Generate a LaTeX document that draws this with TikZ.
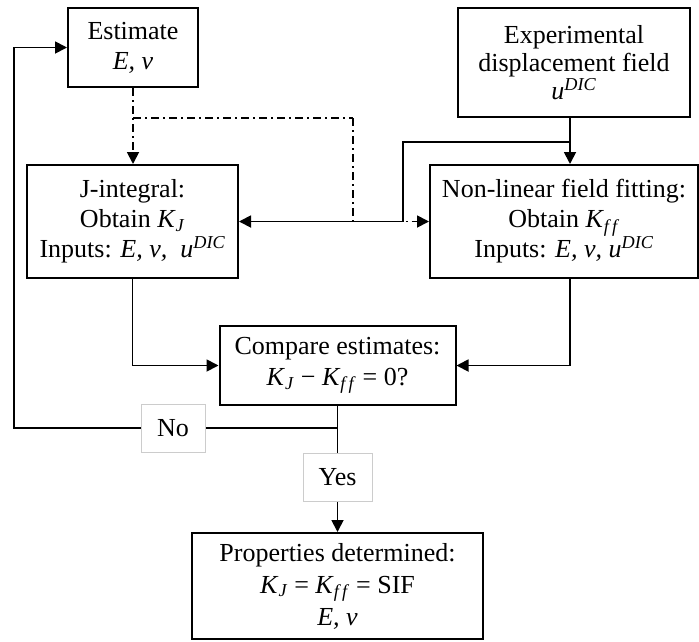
\documentclass[tikz,border=0pt]{standalone}
\usepackage{fontspec}
\setmainfont{Liberation Serif}
\usetikzlibrary{arrows.meta}
\newcommand\subit[1]{\textsubscript{\textit{#1}}}
\newcommand\supit[1]{\textsuperscript{\textit{#1}}}
\begin{document}
\begin{tikzpicture}[x=1pt,y=-1pt,
  box/.style={draw, line width=2pt, align=center, inner sep=0pt, font=\fontsize{26}{30}\selectfont},
  lbl/.style={draw=black!20, line width=0.8pt, fill=white, inner sep=0pt, font=\fontsize{26}{30}\selectfont},
  ln/.style={line width=1.8pt},
  arr/.style={line width=1.8pt, -{Triangle[length=12pt,width=12pt]}},
  dd/.style={line width=1.8pt, dash pattern=on 8pt off 4pt on 2pt off 4pt}]
\useasboundingbox (0,0) rectangle (699,641);
\node[box, minimum width=130, minimum height=79] (est) at (133,47.5) {Estimate\\\textit{E, ν}};
\node[box, minimum width=232, minimum height=109, font=\fontsize{26}{28}\selectfont] (exp) at (574,62.5) {Experimental\\displacement field\\\textit{u}\supit{DIC}};
\node[box, minimum width=211, minimum height=113] (jint) at (132.5,221.5) {J-integral:\\Obtain \textit{K}\subit{J}\\Inputs: \textit{E, ν,\ \ u}\supit{DIC}};
\node[box, minimum width=268, minimum height=113] (nl) at (564,221.5) {Non-linear field fitting:\\Obtain \textit{K}\subit{f\,f}\\Inputs: \textit{E, ν, u}\supit{DIC}};
\node[box, minimum width=236, minimum height=79, font=\fontsize{26}{31}\selectfont] (cmp) at (337.5,365.5) {Compare estimates:\\\textit{K}\subit{J} − \textit{K}\subit{f\,f} = 0?};
\node[box, minimum width=291, minimum height=106, font=\fontsize{26}{32}\selectfont] (prop) at (337.5,586) {Properties determined:\\\textit{K}\subit{J} = \textit{K}\subit{f\,f} = SIF\\\textit{E, ν}};
\coordinate (j) at (337.5,428);
\coordinate (tap) at (570,142);
\coordinate (dd1) at (353,118);
% dash-dot connectors
\draw[dd,arr] (est.south) -- (est.south |- jint.north);
\draw[dd] (est.south |- dd1) -- (dd1);
\draw[dd,arr] (dd1) |- (nl.west);
% solid connectors
\draw[arr] (exp.south -| tap) -- (nl.north -| tap);
\draw[arr] (tap) -- (403,142) |- (jint.east);
\draw[arr] (jint.south) |- (cmp.west);
\draw[arr] (nl.south -| tap) |- (cmp.east);
\draw[ln] (cmp.south) -- (j);
\draw[arr] (j) -- (14,428) |- (est.west);
\draw[arr] (j) -- (prop.north);
% labels
\node[lbl, minimum width=64, minimum height=48] (no) at (173,428) {No};
\node[lbl, minimum width=69, minimum height=48] (yes) at (337.5,477) {Yes};
\end{tikzpicture}
\end{document}
